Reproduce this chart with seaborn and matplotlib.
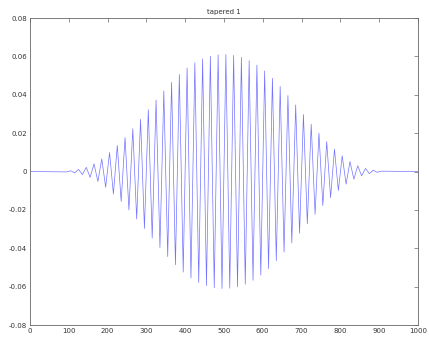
import numpy as np
import pandas as pd
import seaborn as sns
import matplotlib.pyplot as plt

# peak values of the tapered wave
# left half: x = 95, 105, ..., 495
left_peaks = [-0.0002, 0.0004, -0.0007, 0.0011, -0.0016, 0.0022, -0.0030, 0.0040, -0.0052,
              0.0066, -0.0082, 0.0099, -0.0117, 0.0136, -0.0156, 0.0177, -0.0200,
              0.0223, -0.0247, 0.0272, -0.0297, 0.0322, -0.0347, 0.0372, -0.0396,
              0.0420, -0.0443, 0.0465, -0.0486, 0.0506, -0.0524, 0.0540, -0.0555,
              0.0567, -0.0578, 0.0587, -0.0595, 0.0601, -0.0605, 0.0608, -0.0610]
# right half: x = 505, 515, ..., 905
right_peaks = [0.0610, -0.0608, 0.0605, -0.0601, 0.0595, -0.0587, 0.0578, -0.0567,
               0.0555, -0.0540, 0.0524, -0.0506, 0.0486, -0.0465, 0.0443, -0.0420,
               0.0396, -0.0372, 0.0347, -0.0322, 0.0297, -0.0272, 0.0247, -0.0223,
               0.0200, -0.0177, 0.0156, -0.0136, 0.0117, -0.0099, 0.0082, -0.0066,
               0.0052, -0.0040, 0.0030, -0.0022, 0.0016, -0.0011, 0.0007, -0.0004, 0.0002]
left_x = list(range(95, 500, 10))
right_x = list(range(505, 910, 10))

xticks = [0, 100, 200, 300, 400, 500, 600, 700, 800, 900, 1000]
yticks = [-0.08, -0.06, -0.04, -0.02, 0, 0.02, 0.04, 0.06, 0.08]
ylabels = ['-0.08', '-0.06', '-0.04', '-0.02', '0', '0.02', '0.04', '0.06', '0.08']

df = pd.DataFrame({'x': [0] + left_x + right_x + [1000],
                   'y': [0.0] + left_peaks + right_peaks + [0.0]})

sns.set_style("white")
fig = plt.figure(figsize=(4.29, 3.40), dpi=100)
ax = fig.add_axes([0.070, 0.044, 0.904, 0.903])

sns.lineplot(data=df, x='x', y='y', ax=ax, sort=False, estimator=None,
             color=(0.45, 0.45, 1.0), linewidth=0.5)

ax.set_xlim(0, 1000)
ax.set_ylim(-0.08, 0.08)
ax.set_xticks(xticks)
ax.set_yticks(yticks)
ax.set_yticklabels(ylabels)
ax.set_xlabel('')
ax.set_ylabel('')
ax.tick_params(direction='in', length=3, width=0.5, colors='#666666',
               labelsize=5, labelcolor='#333333', top=True, right=True, pad=2)
for s in ax.spines.values():
    s.set_visible(True)
    s.set_linewidth(0.6)
    s.set_color('#666666')
ax.set_title('tapered 1', fontsize=5, color='#333333', pad=3)

fig.savefig('out.png', dpi=100)
